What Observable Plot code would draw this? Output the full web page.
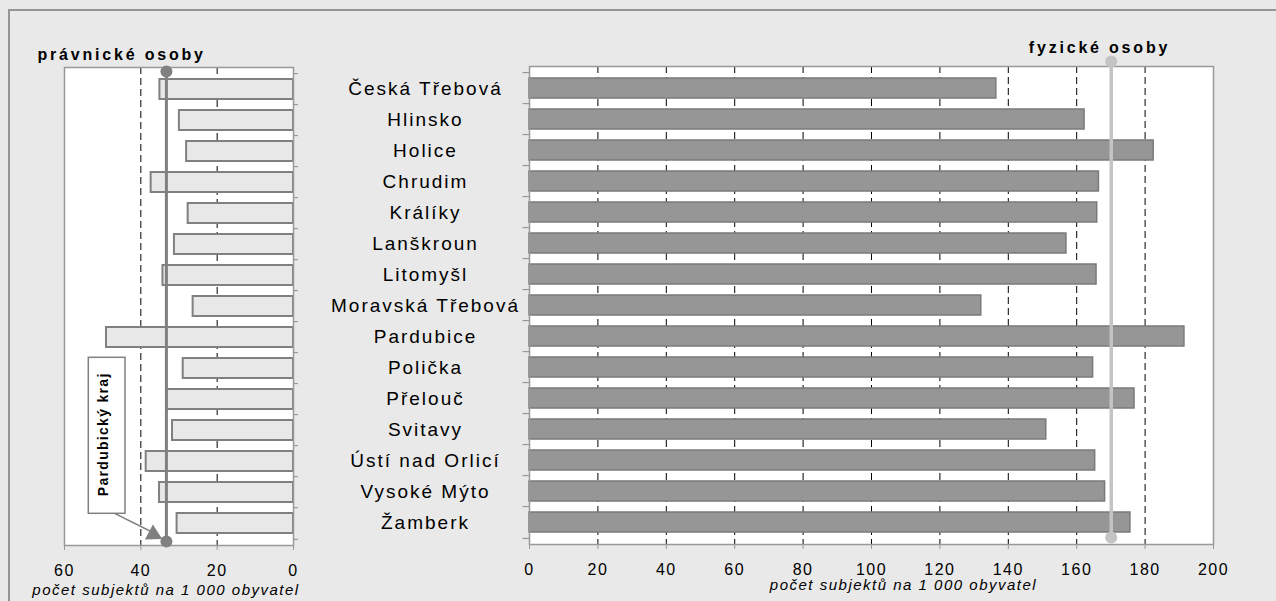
<!DOCTYPE html>
<html><head><meta charset="utf-8">
<script src="https://cdn.jsdelivr.net/npm/d3@7"></script>
<script src="https://cdn.jsdelivr.net/npm/@observablehq/plot@0.6"></script>
<style>
html,body{margin:0;padding:0;background:#e9e9e9;}
#chart{position:relative;width:1276px;height:601px;overflow:hidden;background:#e9e9e9;font-family:"Liberation Sans",Arial,sans-serif;}
#border{position:absolute;left:8px;top:9px;width:1300px;height:700px;border-left:2.5px solid #959595;border-top:2.5px solid #959595;}
#chart svg{position:absolute;top:0;}
g[aria-label="y-axis tick label"] text{letter-spacing:2px;}
g[aria-label="x-axis tick label"] text{letter-spacing:1.5px;}
text.annot{letter-spacing:1.3px;}
</style>
</head><body>
<div id="chart"><div id="border"></div></div>
<script>
// ---- data ----
const categories = ["Česká Třebová","Hlinsko","Holice","Chrudim","Králíky","Lanškroun","Litomyšl","Moravská Třebová","Pardubice","Polička","Přelouč","Svitavy","Ústí nad Orlicí","Vysoké Mýto","Žamberk"];
const pravnicke = [35.0, 29.9, 28.0, 37.3, 27.6, 31.2, 34.2, 26.3, 49.0, 28.9, 33.2, 31.7, 38.6, 35.1, 30.5];
const fyzicke = [136.5, 162.3, 182.5, 166.5, 166.0, 157.0, 165.8, 132.1, 191.5, 164.8, 176.9, 151.1, 165.4, 168.3, 175.7];
const krajPravnicke = 33.3;
const krajFyzicke = 170.1;
const ticksLeft = [0, 20, 40, 60];
const gridLeft = [20, 40];
const ticksRight = [0, 20, 40, 60, 80, 100, 120, 140, 160, 180, 200];
const gridRight = [20, 40, 60, 80, 100, 120, 140, 160, 180];
const titleLeft = "právnické osoby";
const titleRight = "fyzické osoby";
const axisTitle = "počet subjektů na 1 000 obyvatel";
const annotation = "Pardubický kraj";

const rowsL = categories.map((c, i) => ({name: c, value: pravnicke[i]}));
const rowsR = categories.map((c, i) => ({name: c, value: fyzicke[i]}));

const H = 601;
const font = "Liberation Sans, Arial, sans-serif";

// ---- left panel ----
const mL = {top: 67, right: 37, bottom: 56, left: 64};
const stepL = (H - mL.top - mL.bottom) / categories.length;
const left = Plot.plot({
  width: 330, height: H,
  marginTop: mL.top, marginRight: mL.right, marginBottom: mL.bottom, marginLeft: mL.left,
  style: {background: "transparent", fontFamily: font, overflow: "visible", color: "black"},
  x: {domain: [0, 60], reverse: true},
  y: {domain: categories, paddingInner: 0.37, paddingOuter: 0.185, axis: null},
  marks: [
    Plot.frame({fill: "white"}),
    Plot.ruleX(gridLeft, {stroke: "black", strokeDasharray: "7,4", strokeWidth: 1}),
    Plot.barX(rowsL, {x: "value", y: "name", fill: "#e8e8e8", stroke: "#808080", strokeWidth: 2}),
    Plot.ruleY(categories, {y: d => d, x1: 0, x2: -1.3, stroke: "#999", strokeWidth: 1.2, dy: -stepL / 2}),
    Plot.ruleY(categories.slice(-1), {y: d => d, x1: 0, x2: -1.3, stroke: "#999", strokeWidth: 1.2, dy: stepL / 2}),
    Plot.frame({stroke: "#999", strokeWidth: 1.5}),
    Plot.ruleX([krajPravnicke], {x: d => d, stroke: "#808080", strokeWidth: 3, insetTop: 4, insetBottom: 4}),
    Plot.dot([krajPravnicke], {x: d => d, frameAnchor: "top", dy: 4, r: 6, fill: "#808080"}),
    Plot.dot([krajPravnicke], {x: d => d, frameAnchor: "bottom", dy: -4, r: 6, fill: "#808080"}),
    Plot.axisX({ticks: ticksLeft, tickSize: 5, tickPadding: 14, fontSize: 16, stroke: "#999", label: null}),
    Plot.text([axisTitle], {text: d => d, frameAnchor: "bottom", textAnchor: "middle", lineAnchor: "middle", dx: -13, dy: 44.2, fontSize: 15, fontStyle: "italic"}),
    Plot.text([titleLeft], {text: d => d, frameAnchor: "top-left", textAnchor: "start", lineAnchor: "middle", dx: -27, dy: -13.1, fontSize: 16, fontWeight: "bold"})
  ]
});
left.style.left = "0px";
document.getElementById("chart").appendChild(left);

// annotation box + arrow on the left panel
{
  const svg = d3.select(left);
  const xK = left.scale("x").apply(krajPravnicke);
  const bottom = H - mL.bottom;
  const g = svg.append("g").attr("aria-label", "annotation");
  const bx = mL.left + 24.3, bw = 36.7, by = bottom - 187.7, bh = 156;
  g.append("line").attr("x1", bx + bw / 2).attr("y1", by + bh - 4).attr("x2", xK - 8).attr("y2", bottom - 10)
    .attr("stroke", "#808080").attr("stroke-width", 1.5);
  const tip = [xK - 3.7, bottom - 6];
  const ang = Math.atan2(28, 53);
  const u = [Math.cos(ang), Math.sin(ang)], n = [-u[1], u[0]];
  const L = 15, hw = 8.5;
  const bc = [tip[0] - L * u[0], tip[1] - L * u[1]];
  const pts = [tip, [bc[0] + hw * n[0], bc[1] + hw * n[1]], [bc[0] - hw * n[0], bc[1] - hw * n[1]]];
  g.append("path").attr("d", "M" + pts.map(p => p.join(",")).join("L") + "Z").attr("fill", "#808080");
  g.append("rect").attr("x", bx).attr("y", by).attr("width", bw).attr("height", bh)
    .attr("fill", "white").attr("stroke", "#808080").attr("stroke-width", 1.5);
  const cx = bx + bw / 2 - 3.4, cy = by + bh / 2 - 1;
  g.append("text").attr("class", "annot").attr("transform", `translate(${cx},${cy}) rotate(-90)`)
    .attr("text-anchor", "middle").attr("dy", "0.35em").attr("font-size", 14).attr("font-weight", "bold")
    .attr("fill", "black").text(annotation);
}

// ---- right panel ----
const mR = {top: 66, right: 63, bottom: 57, left: 229};
const stepR = (H - mR.top - mR.bottom) / categories.length;
const right = Plot.plot({
  width: 976, height: H,
  marginTop: mR.top, marginRight: mR.right, marginBottom: mR.bottom, marginLeft: mR.left,
  style: {background: "transparent", fontFamily: font, overflow: "visible", color: "black"},
  x: {domain: [0, 200]},
  y: {domain: categories, paddingInner: 0.35, paddingOuter: 0.175},
  marks: [
    Plot.frame({fill: "white"}),
    Plot.ruleX(gridRight, {stroke: "black", strokeDasharray: "7,4", strokeWidth: 1}),
    Plot.barX(rowsR, {x: "value", y: "name", fill: "#969696", stroke: "#7a7a7a", strokeWidth: 1.5}),
    Plot.ruleY(categories, {y: d => d, x1: 0, x2: -1.9, stroke: "#999", strokeWidth: 1.2, dy: -stepR / 2}),
    Plot.ruleY(categories.slice(-1), {y: d => d, x1: 0, x2: -1.9, stroke: "#999", strokeWidth: 1.2, dy: stepR / 2}),
    Plot.frame({stroke: "#999", strokeWidth: 1.5}),
    Plot.ruleX([krajFyzicke], {x: d => d, stroke: "#c4c4c4", strokeWidth: 3.5, insetTop: -5, insetBottom: 7}),
    Plot.dot([krajFyzicke], {x: d => d, frameAnchor: "top", dy: -5, r: 6, fill: "#c4c4c4"}),
    Plot.dot([krajFyzicke], {x: d => d, frameAnchor: "bottom", dy: -7, r: 6, fill: "#c4c4c4"}),
    Plot.axisX({ticks: ticksRight, tickSize: 5, tickPadding: 14, fontSize: 16, stroke: "#999", label: null}),
    Plot.axisY({tickSize: 0, tickPadding: 104, textAnchor: "middle", fontSize: 19, label: null}),
    Plot.text([axisTitle], {text: d => d, frameAnchor: "bottom", textAnchor: "middle", lineAnchor: "middle", dx: 32, dy: 40.2, fontSize: 15, fontStyle: "italic"}),
    Plot.text([titleRight], {text: d => d, frameAnchor: "top-right", textAnchor: "middle", lineAnchor: "middle", dx: -114, dy: -19.1, fontSize: 16, fontWeight: "bold"})
  ]
});
right.style.left = "300px";
document.getElementById("chart").appendChild(right);

// letter spacing for the free text marks
d3.selectAll("#chart text").each(function() {
  const s = this.textContent;
  if (s === axisTitle) this.style.letterSpacing = "1.5px";
  if (s === titleLeft || s === titleRight) this.style.letterSpacing = "2.8px";
});
</script>
</body></html>
